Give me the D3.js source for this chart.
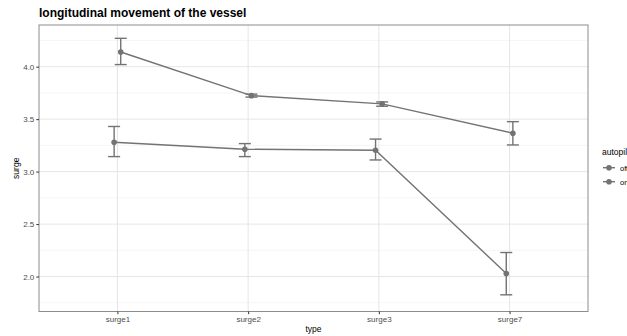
<!DOCTYPE html>
<html>
<head>
<meta charset="utf-8">
<script src="https://cdn.jsdelivr.net/npm/d3@7"></script>
<style>
  body { margin: 0; background: #fff; }
  text { font-family: "Liberation Sans", Arial, sans-serif; }
</style>
</head>
<body>
<svg id="chart" width="627" height="336"></svg>
<script>
// data
var types = ["surge1", "surge2", "surge3", "surge7"];
var groups = ["off", "on"];
var offMean = [3.28, 3.213, 3.204, 2.029];
var offLow  = [3.143, 3.143, 3.111, 1.826];
var offHigh = [3.43, 3.267, 3.31, 2.229];
var onMean  = [4.14, 3.724, 3.645, 3.366];
var onLow   = [4.02, 3.71, 3.623, 3.254];
var onHigh  = [4.27, 3.738, 3.664, 3.476];
var yTicks = [2.0, 2.5, 3.0, 3.5, 4.0];
var yMinor = [1.75, 2.25, 2.75, 3.25, 3.75, 4.25];

var series = [
	{name: "off", mean: offMean, low: offLow, high: offHigh},
	{name: "on", mean: onMean, low: onLow, high: onHigh}
];

var col = "#737373";
var svg = d3.select("#chart");

var panel = {left: 39, right: 588, top: 25, bottom: 311.5};

var x = d3.scalePoint().domain(types)
	.range([panel.left, panel.right]).padding(0.6);
var dodge = d3.scalePoint().domain(groups).range([-3.3, 3.3]);
var y = d3.scaleLinear().domain([1.667, 4.397]).range([panel.bottom, panel.top]);

// panel background
svg.append("rect")
	.attr("x", panel.left).attr("y", panel.top)
	.attr("width", panel.right - panel.left).attr("height", panel.bottom - panel.top)
	.attr("fill", "#fff");

var grid = svg.append("g");
grid.selectAll(".minor").data(yMinor).enter().append("line")
	.attr("x1", panel.left).attr("x2", panel.right)
	.attr("y1", function (d) { return y(d); }).attr("y2", function (d) { return y(d); })
	.attr("stroke", "#f2f2f2").attr("stroke-width", 0.8);
grid.selectAll(".major").data(yTicks).enter().append("line")
	.attr("x1", panel.left).attr("x2", panel.right)
	.attr("y1", function (d) { return y(d); }).attr("y2", function (d) { return y(d); })
	.attr("stroke", "#e6e6e6").attr("stroke-width", 1);
grid.selectAll(".vx").data(types).enter().append("line")
	.attr("y1", panel.top).attr("y2", panel.bottom)
	.attr("x1", function (d) { return x(d); }).attr("x2", function (d) { return x(d); })
	.attr("stroke", "#e6e6e6").attr("stroke-width", 1);

var marks = svg.append("g");
series.forEach(function (s) {
	var px = function (i) { return x(types[i]) + dodge(s.name); };
	var line = d3.line()
		.x(function (d, i) { return px(i); })
		.y(function (d) { return y(d); });
	marks.append("path")
		.attr("d", line(s.mean))
		.attr("fill", "none").attr("stroke", col).attr("stroke-width", 1.4);

	var eb = marks.append("g").selectAll("g").data(s.mean).enter().append("g");
	eb.append("line")
		.attr("x1", function (d, i) { return px(i); }).attr("x2", function (d, i) { return px(i); })
		.attr("y1", function (d, i) { return y(s.low[i]); }).attr("y2", function (d, i) { return y(s.high[i]); })
		.attr("stroke", col).attr("stroke-width", 1.4);
	[s.low, s.high].forEach(function (arr) {
		eb.append("line")
			.attr("x1", function (d, i) { return px(i) - 6; }).attr("x2", function (d, i) { return px(i) + 6; })
			.attr("y1", function (d, i) { return y(arr[i]); }).attr("y2", function (d, i) { return y(arr[i]); })
			.attr("stroke", col).attr("stroke-width", 1.4);
	});
	eb.append("circle")
		.attr("cx", function (d, i) { return px(i); })
		.attr("cy", function (d) { return y(d); })
		.attr("r", 2.8).attr("fill", col);
});

// panel border
svg.append("rect")
	.attr("x", panel.left).attr("y", panel.top)
	.attr("width", panel.right - panel.left).attr("height", panel.bottom - panel.top)
	.attr("fill", "none").attr("stroke", "#8c8c8c").attr("stroke-width", 1);

// axes
var yAxis = svg.append("g")
	.attr("transform", "translate(" + panel.left + ",0)")
	.call(d3.axisLeft(y).tickValues(yTicks).tickFormat(d3.format(".1f")).tickSize(2.7).tickPadding(2));
var xAxis = svg.append("g")
	.attr("transform", "translate(0," + panel.bottom + ")")
	.call(d3.axisBottom(x).tickSize(2.7).tickPadding(2));
[xAxis, yAxis].forEach(function (a) {
	a.select(".domain").remove();
	a.selectAll(".tick line").attr("stroke", "#333");
	a.selectAll(".tick text").attr("fill", "#4d4d4d").attr("font-size", 8);
});

svg.append("text")
	.attr("x", panel.left).attr("y", 17)
	.attr("font-size", 12).attr("font-weight", "bold").attr("fill", "#000")
	.text("longitudinal movement of the vessel");

svg.append("text")
	.attr("x", (panel.left + panel.right) / 2).attr("y", 332)
	.attr("text-anchor", "middle").attr("font-size", 8.5).attr("fill", "#000")
	.text("type");
svg.append("text")
	.attr("transform", "translate(19," + (panel.top + panel.bottom) / 2 + ") rotate(-90)")
	.attr("text-anchor", "middle").attr("font-size", 8.5).attr("fill", "#000")
	.text("surge");

// legend (clipped by the right edge, as in the original)
var lg = svg.append("g").attr("transform", "translate(602,0)");
lg.append("text").attr("x", 0).attr("y", 155).attr("font-size", 8.5).text("autopilot");
var keys = lg.selectAll(".key").data(groups).enter().append("g")
	.attr("transform", function (d, i) { return "translate(0," + (167.7 + i * 14) + ")"; });
keys.append("line").attr("x1", 1).attr("x2", 13).attr("stroke", col).attr("stroke-width", 1.4);
keys.append("circle").attr("cx", 7).attr("r", 2.8).attr("fill", col);
keys.append("text").attr("x", 18).attr("y", 3).attr("font-size", 7.5).attr("fill", "#000")
	.text(function (d) { return d; });
</script>
</body>
</html>
